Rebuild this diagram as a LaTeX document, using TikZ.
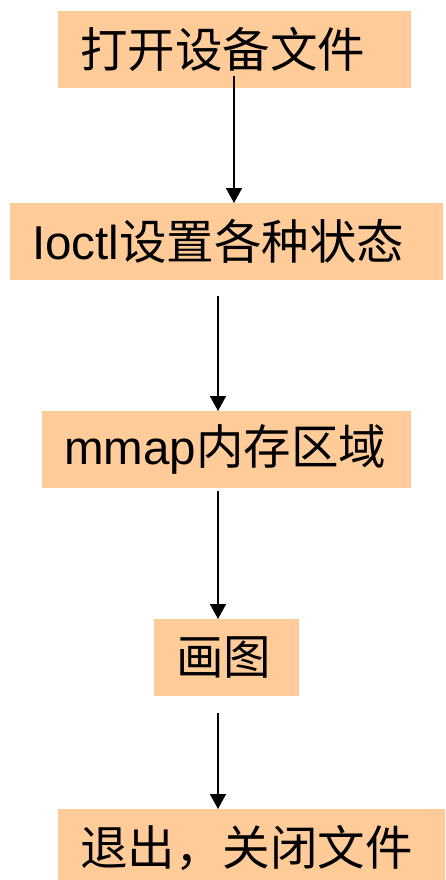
\documentclass[tikz,border=0pt]{standalone}
\usepackage{fontspec}
\setmainfont{Liberation Sans}
\newfontfamily\cjk{Noto Sans CJK SC}
\usetikzlibrary{arrows.meta}
\definecolor{peach}{HTML}{FFCC99}
\begin{document}
\begin{tikzpicture}[x=1pt,y=-1pt,
  box/.style={fill=peach, anchor=north west, inner xsep=22pt, inner ysep=0pt,
    minimum height=77pt, align=left, font=\fontsize{47.5}{50}\selectfont},
  arr/.style={-{Triangle[width=16pt,length=15pt]}, line width=1.6pt}]
\path[use as bounding box, clip] (0,0) rectangle (445,880);
\node[box, text width=309pt] (b1) at (58,11) {\cjk 打开设备文件};
\node[box, text width=389pt] (b2) at (10,203) {Ioctl{\cjk 设置各种状态}};
\node[box, text width=325pt] (b3) at (42,411) {mmap{\cjk 内存区域}};
\node[box, text width=101pt] (b4) at (154,619) {\cjk 画图};
\node[box, text width=343pt] (b5) at (58,809) {\cjk 退出，关闭文件};
\coordinate (s1) at (234,76);
\coordinate (s2) at (218,296);
\coordinate (s3) at (218,491);
\coordinate (s4) at (218,713);
\draw[arr] (s1) -- (s1 |- b2.north);
\draw[arr] (s2) -- (s2 |- b3.north);
\draw[arr] (s3) -- (s3 |- b4.north);
\draw[arr] (s4) -- (s4 |- b5.north);
\end{tikzpicture}
\end{document}
